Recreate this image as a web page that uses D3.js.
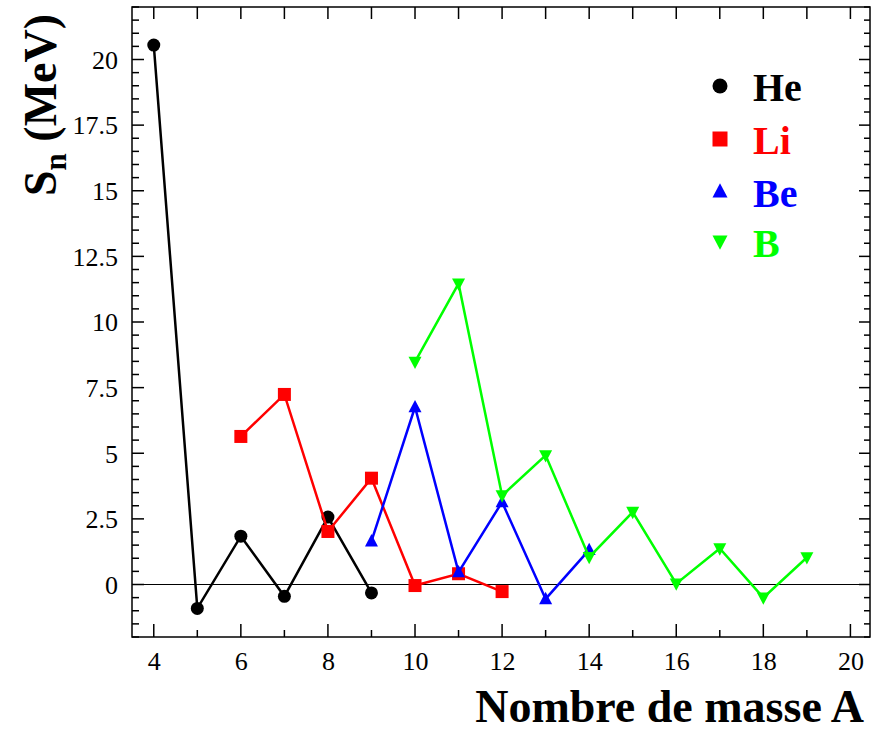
<!DOCTYPE html>
<html><head><meta charset="utf-8">
<script src="https://cdn.jsdelivr.net/npm/d3@7"></script>
<style>body{margin:0;background:#fff}svg{display:block}text{font-family:"Liberation Serif","Times New Roman",serif}</style>
</head><body><svg id="c" width="871" height="733"></svg>
<script>
const heA=[4,5,6,7,8,9];
const heS=[20.55,-0.91,1.84,-0.45,2.57,-0.32];
const liA=[6,7,8,9,10,11,12];
const liS=[5.64,7.24,2.02,4.05,-0.04,0.41,-0.27];
const beA=[9,10,11,12,13,14];
const beS=[1.65,6.76,0.47,3.14,-0.55,1.32];
const bA=[10,11,12,13,14,15,16,17,18,19];
const bS=[8.48,11.46,3.39,4.92,1.04,2.76,0.03,1.37,-0.5,1.03];
const xTicks=[4,6,8,10,12,14,16,18,20];
const yTicks=[0,2.5,5,7.5,10,12.5,15,17.5,20];
const seriesNames=["He","Li","Be","B"];
const colors=["#000000","#ff0000","#0000ff","#00ff00"];
const symbols=["circle","square","triUp","triDown"];
const SERIF="'Liberation Serif', 'Times New Roman', serif";

const svg=d3.select("#c");
const L=132,R=870,T=7,B=637;
const x=d3.scaleLinear().domain([3.5,20.45]).range([L,R]);
const y=d3.scaleLinear().domain([-2,22]).range([B,T]);

svg.append("line").attr("x1",L).attr("x2",R).attr("y1",y(0)).attr("y2",y(0)).attr("stroke","#000").attr("stroke-width",1);

const g=svg.append("g");
const bottom=d3.axisBottom(x).tickValues(xTicks).tickSize(0).tickFormat(d3.format("d"));
const ga=g.append("g").attr("transform",`translate(0,${B})`).call(bottom);
ga.attr("font-family",null).style("font-family",SERIF);
ga.select(".domain").remove();
ga.selectAll("text").style("font-family",SERIF).style("font-size","26px").attr("dy","1.15em").attr("fill","#000");
const left=d3.axisLeft(y).tickValues(yTicks).tickSize(0).tickFormat(d=>String(d));
const gl=g.append("g").attr("transform",`translate(${L},0)`).call(left);
gl.attr("font-family",null).style("font-family",SERIF);
gl.select(".domain").remove();
gl.selectAll("text").style("font-family",SERIF).style("font-size","26px").attr("x",-14).attr("dy","0.34em").attr("fill","#000");

const tk=svg.append("g").attr("stroke","#000").attr("stroke-width",1.5);
d3.range(4,21).forEach(a=>{
  const maj=a%2===0;
  tk.append("line").attr("x1",x(a)).attr("x2",x(a)).attr("y1",B).attr("y2",B-(maj?13:7));
  tk.append("line").attr("x1",x(a)).attr("x2",x(a)).attr("y1",T).attr("y2",T+12);
});
d3.range(-4,45).map(i=>i*0.5).filter(v=>v>=-2&&v<=22).forEach(v=>{
  const maj=Math.abs(v/2.5-Math.round(v/2.5))<1e-6;
  tk.append("line").attr("x1",L).attr("x2",L+(maj?12:7)).attr("y1",y(v)).attr("y2",y(v));
  tk.append("line").attr("x1",R).attr("x2",R-(maj?11:6)).attr("y1",y(v)).attr("y2",y(v));
});
svg.append("rect").attr("x",L).attr("y",T).attr("width",R-L).attr("height",B-T).attr("fill","none").attr("stroke","#000").attr("stroke-width",1.5);

function sym(sel,type,cx,cy,s,color){
  if(type==="circle") sel.append("circle").attr("cx",cx).attr("cy",cy).attr("r",s/2).attr("fill",color);
  else if(type==="square") sel.append("rect").attr("x",cx-s/2).attr("y",cy-s/2).attr("width",s).attr("height",s).attr("fill",color);
  else if(type==="triUp") sel.append("path").attr("d",`M${cx},${cy-s*0.55}L${cx+s/2},${cy+s*0.4}L${cx-s/2},${cy+s*0.4}Z`).attr("fill",color);
  else sel.append("path").attr("d",`M${cx},${cy+s*0.55}L${cx+s/2},${cy-s*0.4}L${cx-s/2},${cy-s*0.4}Z`).attr("fill",color);
}

const data=[[heA,heS],[liA,liS],[beA,beS],[bA,bS]];
const line=d3.line().x(d=>x(d[0])).y(d=>y(d[1]));
data.forEach(([A,S],i)=>{
  const pts=A.map((a,j)=>[a,S[j]]);
  const gs=svg.append("g");
  gs.append("path").attr("d",line(pts)).attr("fill","none").attr("stroke",colors[i]).attr("stroke-width",2.5);
  pts.forEach(p=>sym(gs,symbols[i],x(p[0]),y(p[1]),13,colors[i]));
});

const lg=svg.append("g");
const ly=[86,139,191.5,241.5];
seriesNames.forEach((n,i)=>{
  sym(lg,symbols[i],720,ly[i],15,colors[i]);
  lg.append("text").attr("x",753).attr("y",ly[i]+15).style("font-family",SERIF).attr("font-size",40).attr("font-weight","bold").attr("fill",colors[i]).text(n);
});

svg.append("text").attr("x",864).attr("y",722).attr("text-anchor","end").style("font-family",SERIF).attr("font-size",46).attr("font-weight","bold").text("Nombre de masse A");
const yt=svg.append("text").attr("transform","translate(56,196) rotate(-90)").style("font-family",SERIF).attr("font-size",46).attr("font-weight","bold");
yt.append("tspan").text("S");
yt.append("tspan").attr("font-size",31).attr("dy",10).text("n");
yt.append("tspan").attr("dy",-10).text(" (MeV)");
</script></body></html>
